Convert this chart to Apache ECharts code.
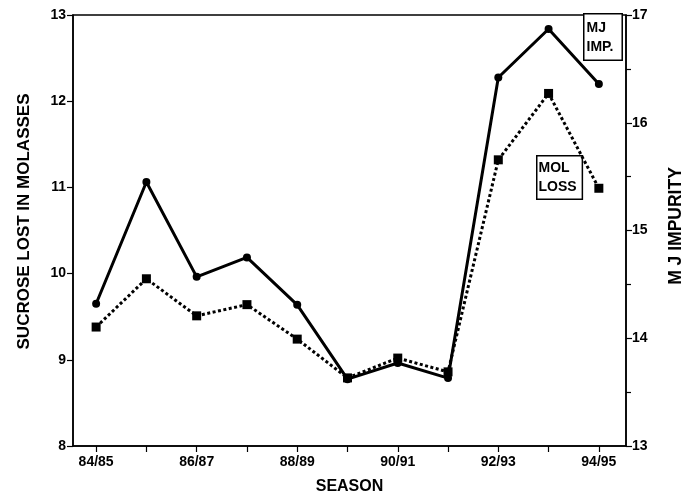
<!DOCTYPE html>
<html>
<head>
<meta charset="utf-8">
<script src="https://cdn.jsdelivr.net/npm/echarts@6/dist/echarts.min.js"></script>
<style>
html,body{margin:0;padding:0;background:#fff;}
#chart{width:693px;height:496px;}
</style>
</head>
<body>
<div id="chart"></div>
<script>
const seasons = ['84/85','85/86','86/87','87/88','88/89','89/90','90/91','91/92','92/93','93/94','94/95'];
const labelSeasons = ['84/85','86/87','88/89','90/91','92/93','94/95'];
const mjImpurity = [14.32, 15.45, 14.57, 14.75, 14.31, 13.62, 13.77, 13.63, 16.42, 16.87, 16.36];
const molLoss = [9.38, 9.94, 9.51, 9.64, 9.24, 8.79, 9.02, 8.86, 11.32, 12.09, 10.99];
const leftTicks = [8, 9, 10, 11, 12, 13];
const rightTicks = [13, 14, 15, 16, 17];

const font = '"Liberation Sans", Arial, Helvetica, sans-serif';
const chart = echarts.init(document.getElementById('chart'), null, {renderer: 'canvas'});
const idx = seasons.map((s, i) => i);
const labelIdx = labelSeasons.map(s => seasons.indexOf(s));

chart.setOption({
  backgroundColor: '#fff',
  animation: false,
  grid: {left: 73, right: 67, top: 15, bottom: 50, show: true, borderColor: '#000', borderWidth: 1.5,
    containLabel: false, outerBoundsMode: 'none'},
  xAxis: {
    type: 'value', min: -0.46, max: 10.54,
    name: 'SEASON', nameLocation: 'middle', nameGap: 33,
    nameTextStyle: {fontFamily: font, fontWeight: 'bold', fontSize: 16, color: '#000'},
    axisLine: {show: true, onZero: false, lineStyle: {color: '#000', width: 1.5}},
    axisTick: {show: true, inside: false, customValues: idx, length: 6, lineStyle: {color: '#000', width: 1.2}},
    axisLabel: {show: true, customValues: labelIdx, formatter: v => seasons[Math.round(v)], margin: 9,
      fontFamily: font, fontWeight: 'bold', fontSize: 14, color: '#000'},
    splitLine: {show: false}
  },
  yAxis: [{
    type: 'value', min: leftTicks[0], max: leftTicks[leftTicks.length-1], interval: 1, position: 'left',
    name: 'SUCROSE LOST IN MOLASSES', nameLocation: 'middle', nameGap: 40, nameRotate: 90,
    nameTextStyle: {fontFamily: font, fontWeight: 'bold', fontSize: 17, color: '#000', padding: [0, 0, 0, 18]},
    axisLine: {show: true, onZero: false, lineStyle: {color: '#000', width: 1.5}},
    axisTick: {show: true, inside: false, length: 6, lineStyle: {color: '#000', width: 1.2}},
    axisLabel: {margin: 7, fontFamily: font, fontWeight: 'bold', fontSize: 14, color: '#000'},
    splitLine: {show: false}
  }, {
    type: 'value', min: rightTicks[0], max: rightTicks[rightTicks.length-1], interval: 1, position: 'right',
    name: 'M J IMPURITY', nameLocation: 'middle', nameGap: 41, nameRotate: 90,
    nameTextStyle: {fontFamily: font, fontWeight: 'bold', fontSize: 17.5, color: '#000', padding: [0, 0, 0, 9]},
    axisLine: {show: true, onZero: false, lineStyle: {color: '#000', width: 1.5}},
    axisTick: {show: true, inside: false, length: 6, lineStyle: {color: '#000', width: 1.2}},
    minorTick: {show: true, splitNumber: 2, length: 5, lineStyle: {color: '#000', width: 1.2}},
    axisLabel: {margin: 6, fontFamily: font, fontWeight: 'bold', fontSize: 14, color: '#000'},
    splitLine: {show: false}
  }],
  series: [{
    name: 'MJ IMP.', type: 'line', yAxisIndex: 1,
    data: mjImpurity.map((v, i) => [i, v]),
    symbol: 'circle', symbolSize: 8,
    lineStyle: {color: '#000', width: 3},
    itemStyle: {color: '#000'}
  }, {
    name: 'MOL LOSS', type: 'line', yAxisIndex: 0,
    data: molLoss.map((v, i) => [i, v]),
    symbol: 'rect', symbolSize: 9,
    lineStyle: {color: '#000', width: 3, type: [3, 2.5]},
    itemStyle: {color: '#000'}
  }],
  graphic: [{
    type: 'text', left: 583, top: 13,
    style: {text: 'MJ\nIMP.', fontFamily: font, fontWeight: 'bold', fontSize: 14, lineHeight: 19, fill: '#000',
      borderColor: '#000', borderWidth: 1.5, padding: [4, 8, 3, 2], backgroundColor: '#fff'}
  }, {
    type: 'text', left: 536, top: 155,
    style: {text: 'MOL\nLOSS', fontFamily: font, fontWeight: 'bold', fontSize: 14, lineHeight: 19, fill: '#000',
      borderColor: '#000', borderWidth: 1.5, padding: [2, 5, 2, 1], backgroundColor: '#fff'}
  }]
});
</script>
</body>
</html>
